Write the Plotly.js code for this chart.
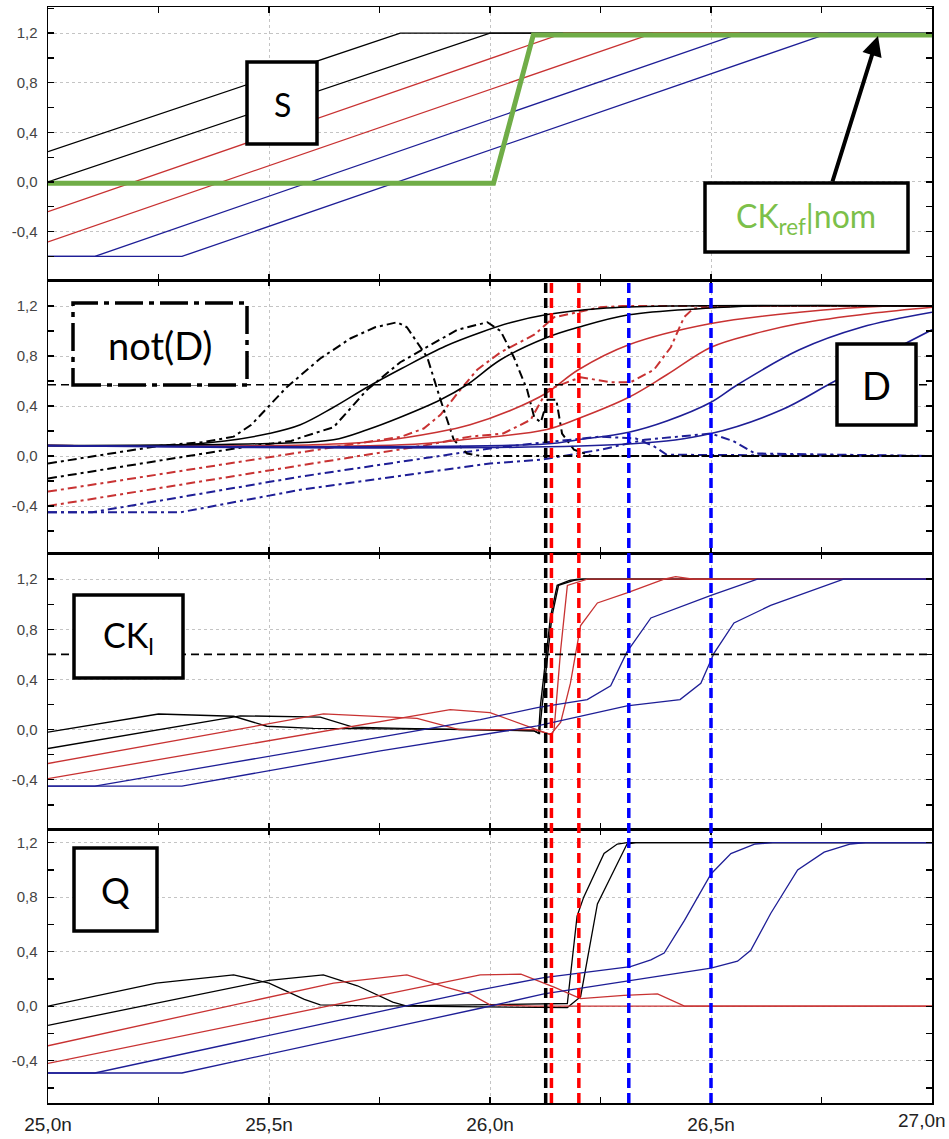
<!DOCTYPE html>
<html>
<head>
<meta charset="utf-8">
<script src="https://cdn.plot.ly/plotly-3.0.1.min.js"></script>
<style>
html,body{margin:0;padding:0;background:#fff;}
#chart{width:949px;height:1139px;}
</style>
</head>
<body>
<div id="chart"></div>
<script>
// ---------- tick labels ----------
const xTickVals = [25.0, 25.5, 26.0, 26.5, 27.0];
const xTickText = ['25,0n', '25,5n', '26,0n', '26,5n', '27,0n'];
const yTickVals = [-0.4, 0.0, 0.4, 0.8, 1.2];
const yTickText = ['-0,4', '0,0', '0,4', '0,8', '1,2'];

// ---------- panel 1 : S ----------
const sBlack1X = [25.0, 25.797, 27.0];           const sBlack1Y = [0.245, 1.2, 1.2];
const sBlack2X = [25.0, 26.0, 27.0];             const sBlack2Y = [0.0, 1.2, 1.2];
const sRed1X   = [25.0, 26.167, 27.0];           const sRed1Y   = [-0.24, 1.2, 1.2];
const sRed2X   = [25.0, 26.37, 27.0];            const sRed2Y   = [-0.483, 1.2, 1.2];
const sBlue1X  = [25.0, 25.106, 26.567, 27.0];   const sBlue1Y  = [-0.6, -0.6, 1.2, 1.2];
const sBlue2X  = [25.0, 25.303, 26.767, 27.0];   const sBlue2Y  = [-0.6, -0.6, 1.2, 1.2];
const ckRefX   = [25.0, 26.008, 26.098, 27.0];   const ckRefY   = [-0.01, -0.01, 1.185, 1.185];

// ---------- panel 2 : D (solid) ----------
const dBlack1X = [25.0, 25.3, 25.4, 25.5, 25.571, 25.646, 25.722, 25.8, 25.9, 25.98, 26.05, 26.126, 26.25, 26.4, 27.0];
const dBlack1Y = [0.083, 0.09, 0.12, 0.18, 0.25, 0.39, 0.55, 0.7, 0.88, 0.99, 1.07, 1.13, 1.18, 1.2, 1.2];
const dBlack2X = [25.0, 25.5, 25.646, 25.722, 25.797, 25.888, 25.948, 26.024, 26.13, 26.2, 26.314, 26.48, 26.6, 27.0];
const dBlack2Y = [0.083, 0.1, 0.13, 0.21, 0.31, 0.45, 0.57, 0.77, 0.95, 1.03, 1.13, 1.18, 1.2, 1.2];
const dRed1X = [25.0, 25.6, 25.75, 25.88, 25.955, 26.05, 26.126, 26.2, 26.314, 26.5, 26.7, 26.9, 27.0];
const dRed1Y = [0.083, 0.09, 0.12, 0.19, 0.25, 0.37, 0.5, 0.69, 0.89, 1.06, 1.15, 1.2, 1.2];
const dRed2X = [25.0, 25.8, 25.955, 26.126, 26.2, 26.314, 26.4, 26.5, 26.6, 26.7, 26.86, 27.0];
const dRed2Y = [0.083, 0.09, 0.136, 0.21, 0.3, 0.47, 0.65, 0.87, 0.98, 1.06, 1.14, 1.19];
const dBlue1X = [25.0, 26.126, 26.2, 26.314, 26.4, 26.5, 26.56, 26.7, 26.84, 27.0];
const dBlue1Y = [0.083, 0.096, 0.13, 0.19, 0.28, 0.43, 0.57, 0.85, 1.03, 1.15];
const dBlue2X = [25.0, 26.314, 26.5, 26.66, 26.77, 26.88, 27.0];
const dBlue2Y = [0.083, 0.096, 0.18, 0.37, 0.58, 0.79, 1.01];

// ---------- panel 2 : not(D) (dash-dot) ----------
const ndBlack1X = [25.0, 25.255, 25.35, 25.42, 25.46, 25.5, 25.54, 25.616, 25.684, 25.74, 25.79, 25.812, 25.858, 25.888, 25.918, 25.948, 25.98, 27.0];
const ndBlack1Y = [-0.06, 0.083, 0.11, 0.155, 0.25, 0.4, 0.55, 0.78, 0.94, 1.03, 1.07, 1.03, 0.79, 0.45, 0.13, 0.02, 0.0, 0.0];
const ndBlack2X = [25.0, 25.43, 25.55, 25.578, 25.646, 25.722, 25.797, 25.873, 25.926, 25.994, 26.024, 26.054, 26.084, 26.1, 26.115, 26.13, 26.15, 26.163, 26.19, 26.23, 27.0];
const ndBlack2Y = [-0.18, 0.064, 0.12, 0.155, 0.23, 0.53, 0.75, 0.9, 1.01, 1.07, 1.0, 0.79, 0.53, 0.31, 0.27, 0.45, 0.45, 0.18, 0.05, 0.0, 0.0];
const ndRed1X = [25.0, 25.571, 25.67, 25.8, 25.85, 25.888, 25.933, 25.971, 26.024, 26.1, 26.145, 26.25, 26.3, 27.0];
const ndRed1Y = [-0.285, 0.027, 0.083, 0.155, 0.22, 0.33, 0.53, 0.69, 0.83, 0.97, 1.11, 1.19, 1.2, 1.2];
const ndRed2X = [25.0, 25.571, 25.85, 25.955, 26.03, 26.092, 26.13, 26.205, 26.273, 26.318, 26.371, 26.409, 26.439, 26.46, 26.55, 27.0];
const ndRed2Y = [-0.4, -0.072, 0.083, 0.155, 0.18, 0.29, 0.53, 0.63, 0.59, 0.59, 0.69, 0.87, 1.11, 1.18, 1.2, 1.2];
const ndBlue1X = [25.0, 25.1, 25.571, 26.0, 26.1, 26.25, 26.33, 26.37, 26.4, 27.0];
const ndBlue1Y = [-0.45, -0.45, -0.165, 0.06, 0.1, 0.155, 0.14, 0.08, 0.01, 0.0];
const ndBlue2X = [25.0, 25.3, 25.571, 26.0, 26.114, 26.25, 26.35, 26.5, 26.55, 26.6, 27.0];
const ndBlue2Y = [-0.45, -0.45, -0.27, -0.06, -0.03, 0.05, 0.13, 0.18, 0.12, 0.02, 0.0];

// ---------- panel 3 : CK_l ----------
const ckBlack1X = [25.0, 25.25, 25.42, 25.495, 25.6, 26.0, 26.1, 26.11, 26.114, 26.137, 26.152, 26.18, 26.2, 27.0];
const ckBlack1Y = [-0.02, 0.125, 0.107, 0.027, 0.01, 0.0, -0.01, -0.03, 0.19, 0.9, 1.15, 1.19, 1.2, 1.2];
const ckBlack2X = [25.0, 25.435, 25.616, 25.69, 25.8, 26.0, 26.1, 26.112, 26.118, 26.14, 26.155, 26.19, 26.21, 27.0];
const ckBlack2Y = [-0.15, 0.11, 0.1, 0.02, 0.01, 0.0, -0.01, -0.03, 0.19, 0.9, 1.15, 1.19, 1.2, 1.2];
const ckRed1X = [25.0, 25.623, 25.835, 25.93, 26.1, 26.14, 26.145, 26.16, 26.175, 26.22, 27.0];
const ckRed1Y = [-0.27, 0.125, 0.09, 0.0, 0.0, -0.04, 0.0, 0.64, 1.15, 1.2, 1.2];
const ckRed2X = [25.0, 25.91, 26.0, 26.107, 26.137, 26.16, 26.182, 26.205, 26.243, 26.31, 26.394, 26.42, 26.46, 27.0];
const ckRed2Y = [-0.39, 0.16, 0.136, 0.0, -0.04, 0.06, 0.37, 0.83, 1.01, 1.09, 1.2, 1.22, 1.2, 1.2];
const ckBlue1X = [25.0, 25.106, 25.752, 25.978, 26.107, 26.22, 26.273, 26.31, 26.364, 26.5, 26.605, 27.0];
const ckBlue1Y = [-0.45, -0.45, -0.06, 0.08, 0.175, 0.24, 0.35, 0.62, 0.89, 1.07, 1.2, 1.2];
const ckBlue2X = [25.0, 25.303, 25.752, 25.978, 26.107, 26.31, 26.43, 26.477, 26.507, 26.552, 26.635, 26.8, 27.0];
const ckBlue2Y = [-0.45, -0.45, -0.17, -0.045, 0.03, 0.19, 0.24, 0.37, 0.61, 0.85, 0.99, 1.2, 1.2];

// ---------- panel 4 : Q ----------
const qBlack1X = [25.0, 25.245, 25.42, 25.5, 25.58, 25.616, 25.75, 26.175, 26.197, 26.212, 26.258, 26.288, 26.31, 27.0];
const qBlack1Y = [0.0, 0.17, 0.23, 0.17, 0.05, 0.01, 0.0, 0.02, 0.66, 0.8, 1.12, 1.19, 1.2, 1.2];
const qBlack2X = [25.0, 25.5, 25.623, 25.7, 25.78, 25.812, 26.175, 26.205, 26.243, 26.288, 26.31, 26.33, 27.0];
const qBlack2Y = [-0.14, 0.19, 0.23, 0.15, 0.03, 0.0, -0.01, 0.07, 0.75, 1.05, 1.19, 1.2, 1.2];
const qRed1X = [25.0, 25.646, 25.812, 25.9, 25.955, 26.0, 26.1, 27.0];
const qRed1Y = [-0.29, 0.17, 0.23, 0.14, 0.09, 0.01, 0.0, 0.0];
const qRed2X = [25.0, 25.978, 26.07, 26.145, 26.205, 26.303, 26.379, 26.44, 27.0];
const qRed2Y = [-0.42, 0.23, 0.235, 0.14, 0.056, 0.08, 0.09, 0.0, 0.0];
const qBlue1X = [25.0, 25.106, 25.978, 26.122, 26.318, 26.364, 26.394, 26.44, 26.5, 26.545, 26.6, 26.64, 27.0];
const qBlue1Y = [-0.49, -0.49, 0.12, 0.21, 0.29, 0.34, 0.39, 0.63, 0.97, 1.12, 1.19, 1.2, 1.2];
const qBlue2X = [25.0, 25.303, 25.978, 26.122, 26.5, 26.56, 26.59, 26.635, 26.696, 26.756, 26.816, 26.85, 27.0];
const qBlue2Y = [-0.49, -0.49, -0.015, 0.09, 0.28, 0.33, 0.41, 0.68, 1.0, 1.13, 1.19, 1.2, 1.2];

// ---------- reference markers ----------
const markerTimes  = [26.126, 26.139, 26.201, 26.314, 26.5];
const markerColors = ['#000000', '#ff0000', '#ff0000', '#0000ff', '#0000ff'];
const thresholdD  = 0.57;
const thresholdCK = 0.6;

// ---------- styling / geometry ----------
const BLACK = '#000000', RED = '#c83232', BLUE = '#1e1e96', GREEN = '#70ad47';
const PL = 48, PR = 932, PT = 7, PB = 1103;
function px2x(px) { return (px - PL) / (PR - PL); }
function py2y(py) { return 1 - (py - PT) / (PB - PT); }

const traces = [];
function addLine(xs, ys, ax, color, width, dash, shape) {
  traces.push({
    type: 'scatter', mode: 'lines', x: xs, y: ys,
    xaxis: 'x' + ax, yaxis: 'y' + ax, hoverinfo: 'skip', showlegend: false,
    line: { color: color, width: width, dash: dash || 'solid', shape: shape || 'linear' }
  });
}
function ax(n) { return n === 1 ? '' : String(n); }

addLine(sBlack1X, sBlack1Y, ax(1), BLACK, 1.3);
addLine(sBlack2X, sBlack2Y, ax(1), BLACK, 1.3);
addLine(sRed1X, sRed1Y, ax(1), RED, 1.3);
addLine(sRed2X, sRed2Y, ax(1), RED, 1.3);
addLine(sBlue1X, sBlue1Y, ax(1), BLUE, 1.3);
addLine(sBlue2X, sBlue2Y, ax(1), BLUE, 1.3);
addLine(ckRefX, ckRefY, ax(1), GREEN, 5);

const NDDASH = '9px,4px,3px,4px';
addLine(ndRed1X, ndRed1Y, ax(2), RED, 2, NDDASH);
addLine(ndRed2X, ndRed2Y, ax(2), RED, 2, NDDASH);
addLine(ndBlue1X, ndBlue1Y, ax(2), BLUE, 2, NDDASH);
addLine(ndBlue2X, ndBlue2Y, ax(2), BLUE, 2, NDDASH);
addLine(ndBlack1X, ndBlack1Y, ax(2), BLACK, 2, NDDASH);
addLine(ndBlack2X, ndBlack2Y, ax(2), BLACK, 2, NDDASH);
addLine(dRed1X, dRed1Y, ax(2), RED, 1.5, 'solid', 'spline');
addLine(dRed2X, dRed2Y, ax(2), RED, 1.5, 'solid', 'spline');
addLine(dBlack1X, dBlack1Y, ax(2), BLACK, 1.5, 'solid', 'spline');
addLine(dBlack2X, dBlack2Y, ax(2), BLACK, 1.5, 'solid', 'spline');
addLine(dBlue1X, dBlue1Y, ax(2), BLUE, 1.6, 'solid', 'spline');
addLine(dBlue2X, dBlue2Y, ax(2), BLUE, 1.6, 'solid', 'spline');

addLine(ckBlack1X, ckBlack1Y, ax(3), BLACK, 1.4);
addLine(ckBlack2X, ckBlack2Y, ax(3), BLACK, 1.4);
addLine(ckRed1X, ckRed1Y, ax(3), RED, 1.3);
addLine(ckRed2X, ckRed2Y, ax(3), RED, 1.3);
addLine(ckBlue1X, ckBlue1Y, ax(3), BLUE, 1.3);
addLine(ckBlue2X, ckBlue2Y, ax(3), BLUE, 1.3);

addLine(qBlack1X, qBlack1Y, ax(4), BLACK, 1.3);
addLine(qBlack2X, qBlack2Y, ax(4), BLACK, 1.3);
addLine(qRed1X, qRed1Y, ax(4), RED, 1.3);
addLine(qRed2X, qRed2Y, ax(4), RED, 1.3);
addLine(qBlue1X, qBlue1Y, ax(4), BLUE, 1.3);
addLine(qBlue2X, qBlue2Y, ax(4), BLUE, 1.3);

// ---------- axes ----------
function xAxis(anchor, labels) {
  return {
    domain: [0, 1], anchor: anchor, range: [25, 27],
    tickmode: 'array', tickvals: xTickVals, ticktext: xTickText,
    showticklabels: labels, ticks: 'inside', ticklen: 6, tickwidth: 1.3, tickcolor: '#000',
    showline: true, linecolor: '#000', linewidth: 1.5, mirror: 'ticks',
    showgrid: true, gridcolor: '#c4c4c4', griddash: 'dot', gridwidth: 1, zeroline: false,
    minor: { tickmode: 'linear', tick0: 25, dtick: 0.25, ticks: 'inside', ticklen: 6, tickwidth: 1.3, tickcolor: '#000', showgrid: false },
    tickfont: { family: 'Liberation Sans, Arial, sans-serif', size: 19, color: '#222' },
    ticklabelstandoff: 4, fixedrange: true
  };
}
function yAxis(anchor, domain, range) {
  return {
    domain: domain, anchor: anchor, range: range,
    tickmode: 'array', tickvals: yTickVals, ticktext: yTickText,
    ticks: 'inside', ticklen: 6, tickwidth: 1.3, tickcolor: '#000',
    showline: true, linecolor: '#000', linewidth: 1.5, mirror: 'ticks',
    showgrid: true, gridcolor: '#c4c4c4', griddash: 'dot', gridwidth: 1, zeroline: false,
    minor: { tickmode: 'linear', tick0: 0, dtick: 0.2, ticks: 'inside', ticklen: 6, tickwidth: 1.3, tickcolor: '#000', showgrid: false },
    tickfont: { family: 'Liberation Sans, Arial, sans-serif', size: 15, color: '#444' },
    ticklabelstandoff: 6, fixedrange: true
  };
}

const d1 = [py2y(280), 1];
const d2 = [py2y(553), py2y(280)];
const d3 = [py2y(829), py2y(553)];
const d4 = [0, py2y(829)];

// ---------- shapes ----------
const shapes = [];
shapes.push({ type: 'line', xref: 'x2', yref: 'y2', x0: 25, x1: 27, y0: thresholdD, y1: thresholdD,
  line: { color: '#000', width: 1.6, dash: '8px,5px' }, layer: 'above' });
shapes.push({ type: 'line', xref: 'x3', yref: 'y3', x0: 25, x1: 27, y0: thresholdCK, y1: thresholdCK,
  line: { color: '#000', width: 1.6, dash: '8px,5px' }, layer: 'above' });
markerTimes.forEach(function (t, i) {
  shapes.push({ type: 'line', xref: 'x4', yref: 'paper', x0: t, x1: t, y0: 0, y1: py2y(283),
    line: { color: markerColors[i], width: 3.5, dash: '10px,5px' }, layer: 'above' });
});
function box(x0, y0, x1, y1, dash) {
  shapes.push({ type: 'rect', xref: 'paper', yref: 'paper',
    x0: px2x(x0), x1: px2x(x1), y0: py2y(y1), y1: py2y(y0),
    fillcolor: '#ffffff', line: { color: '#000', width: 3.5, dash: dash || 'solid' }, layer: 'above' });
}
box(247, 62, 317, 144);
box(705, 183, 908, 252);
box(73, 303, 247, 385, '28px,6px,5px,6px');
box(837, 344, 916, 425);
box(74, 595, 183, 678);
box(74, 848, 157, 931);

// ---------- annotations ----------
const annotations = [];
function label(txt, cx, cy, size, color) {
  annotations.push({ xref: 'paper', yref: 'paper', x: px2x(cx), y: py2y(cy),
    xanchor: 'center', yanchor: 'middle', showarrow: false, text: txt,
    font: { family: 'Lato, Open Sans, sans-serif', size: size, color: color || '#000' } });
}
label('S', 282, 104, 32);
label('CK<sub>ref</sub>|nom', 806, 218, 32, '#7cc04a');
label('not(D)', 160, 345, 38);
label('D', 876, 385, 38);
label('CK<sub>l</sub>', 128, 637, 34);
label('Q', 115, 890, 36);
annotations.push({ xref: 'paper', yref: 'paper', x: px2x(878), y: py2y(36), text: '',
  showarrow: true, arrowhead: 2, arrowsize: 1, arrowwidth: 4, arrowcolor: '#000',
  ax: -46, ay: 147, standoff: 0, startstandoff: 0 });
// last x tick label, kept inside the page edge
annotations.push({ xref: 'paper', yref: 'paper', x: px2x(948), y: py2y(1108), xanchor: 'right', yanchor: 'top',
  showarrow: false, text: xTickText[xTickText.length - 1],
  font: { family: 'Liberation Sans, Arial, sans-serif', size: 19, color: '#222' } });

const layout = {
  width: 949, height: 1139,
  margin: { l: PL, r: 949 - PR, t: PT, b: 1139 - PB, pad: 0 },
  paper_bgcolor: '#ffffff', plot_bgcolor: '#ffffff',
  showlegend: false,
  xaxis: xAxis('y', false), yaxis: yAxis('x', d1, [-0.79, 1.41]),
  xaxis2: xAxis('y2', false), yaxis2: yAxis('x2', d2, [-0.776, 1.408]),
  xaxis3: xAxis('y3', false), yaxis3: yAxis('x3', d3, [-0.792, 1.408]),
  xaxis4: xAxis('y4', true), yaxis4: yAxis('x4', d4, [-0.71, 1.30]),
  shapes: shapes, annotations: annotations
};

Plotly.newPlot('chart', traces, layout, { displayModeBar: false, staticPlot: true });
</script>
</body>
</html>
